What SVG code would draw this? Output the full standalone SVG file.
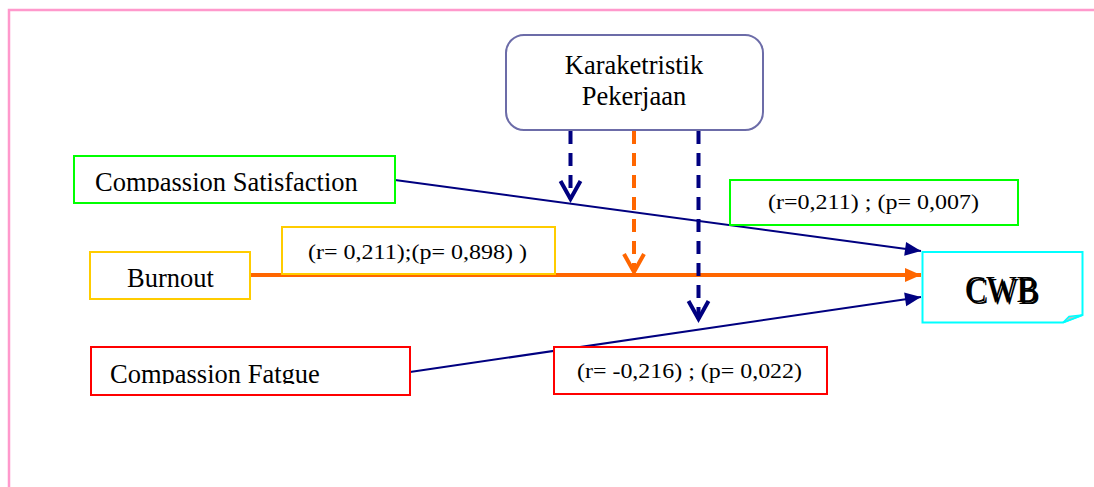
<svg xmlns="http://www.w3.org/2000/svg" width="1094" height="487" viewBox="0 0 1094 487">
<style>
.t{font-family:"Liberation Serif","Times New Roman",serif;fill:#000}
.n{font-size:26.5px}
.s{font-size:22px}
.box{fill:#fff;stroke-width:2}
.dash{fill:none;stroke-width:4;stroke-dasharray:13 9}
.solid{fill:none;stroke-width:2}
</style>
<defs>
<marker id="ahNavy" markerUnits="userSpaceOnUse" markerWidth="20" markerHeight="18" refX="16" refY="7" orient="auto" overflow="visible">
<path d="M0,0 L16,7 L0,14 Z" fill="#000080"/>
</marker>
<marker id="ahOrange" markerUnits="userSpaceOnUse" markerWidth="20" markerHeight="18" refX="16" refY="7" orient="auto" overflow="visible">
<path d="M0,0 L16,7 L0,14 Z" fill="#ff6600"/>
</marker>
<marker id="vNavy" markerUnits="userSpaceOnUse" markerWidth="24" markerHeight="26" refX="0" refY="0" orient="auto" overflow="visible">
<path d="M-18,-10 L0,0 L-18,10" fill="none" stroke="#000080" stroke-width="4"/>
</marker>
<marker id="vOrange" markerUnits="userSpaceOnUse" markerWidth="24" markerHeight="26" refX="0" refY="0" orient="auto" overflow="visible">
<path d="M-18,-10 L0,0 L-18,10" fill="none" stroke="#ff6600" stroke-width="4"/>
</marker>
<clipPath id="clipCS"><rect x="74" y="156" width="320" height="36"/></clipPath>
<clipPath id="clipCF"><rect x="91" y="347" width="318" height="37"/></clipPath>
</defs>

<path d="M9,487 V10 H1094" fill="none" stroke="#ff99cc" stroke-width="2.5"/>

<g id="connectors">
<line class="solid" x1="395" y1="180" x2="921" y2="251" stroke="#000080" marker-end="url(#ahNavy)"/>
<line x1="251" y1="275" x2="921" y2="275" stroke="#ff6600" stroke-width="4" marker-end="url(#ahOrange)"/>
<line class="solid" x1="410" y1="372" x2="921" y2="297" stroke="#000080" marker-end="url(#ahNavy)"/>
<line class="dash" x1="570.5" y1="131" x2="570.5" y2="199" stroke="#000080" marker-end="url(#vNavy)"/>
<line class="dash" x1="634" y1="131" x2="634" y2="272" stroke="#ff6600" marker-end="url(#vOrange)"/>
<line class="dash" x1="698.5" y1="131" x2="698.5" y2="319" stroke="#000080" marker-end="url(#vNavy)"/>
</g>

<g id="karakteristik">
<rect class="box" x="506" y="35" width="257" height="95" rx="18" ry="18" stroke="#6c6ca8"/>
<text class="t n" x="634" y="74" text-anchor="middle">Karaketristik</text>
<text class="t n" x="634" y="105" text-anchor="middle">Pekerjaan</text>
</g>

<g id="compassion-satisfaction">
<rect class="box" x="74" y="156" width="321" height="47" stroke="#00ff00"/>
<text class="t n" x="95" y="191" clip-path="url(#clipCS)">Compassion Satisfaction</text>
</g>

<g id="burnout">
<rect class="box" x="90" y="252" width="160" height="47" stroke="#ffcc00"/>
<text class="t n" x="127" y="287">Burnout</text>
</g>

<g id="compassion-fatigue">
<rect class="box" x="91" y="347" width="319" height="48" stroke="#ff0000"/>
<text class="t n" x="110" y="383" clip-path="url(#clipCF)">Compassion Fatgue</text>
</g>

<g id="cwb">
<path d="M922.5,252 H1082.5 V315 L1063,322.5 H922.5 Z" fill="#fff" stroke="#00ffff" stroke-width="2"/>
<path d="M1063,322.5 L1069,316.5 L1082.5,315 Z" fill="#c0c0c0" stroke="#00ffff" stroke-width="1.5"/>
<text class="t" x="967" y="303.5" font-size="38" textLength="73" lengthAdjust="spacingAndGlyphs" fill="#aaa">CWB</text>
<text class="t" x="965" y="302" font-size="38" textLength="73" lengthAdjust="spacingAndGlyphs">CWB</text>
</g>

<g id="label-cs">
<rect class="box" x="730" y="180" width="288" height="45" stroke="#00ff00"/>
<text class="t s" x="768" y="209" textLength="211" lengthAdjust="spacingAndGlyphs">(r=0,211) ; (p= 0,007)</text>
</g>

<g id="label-burnout">
<rect class="box" x="282" y="227" width="273" height="47" stroke="#ffcc00"/>
<text class="t s" x="308" y="259" textLength="219" lengthAdjust="spacingAndGlyphs">(r= 0,211);(p= 0,898) )</text>
</g>

<g id="label-cf">
<rect class="box" x="554" y="347" width="273" height="47" stroke="#ff0000"/>
<text class="t s" x="577" y="378" textLength="225" lengthAdjust="spacingAndGlyphs">(r= -0,216) ; (p= 0,022)</text>
</g>
</svg>
